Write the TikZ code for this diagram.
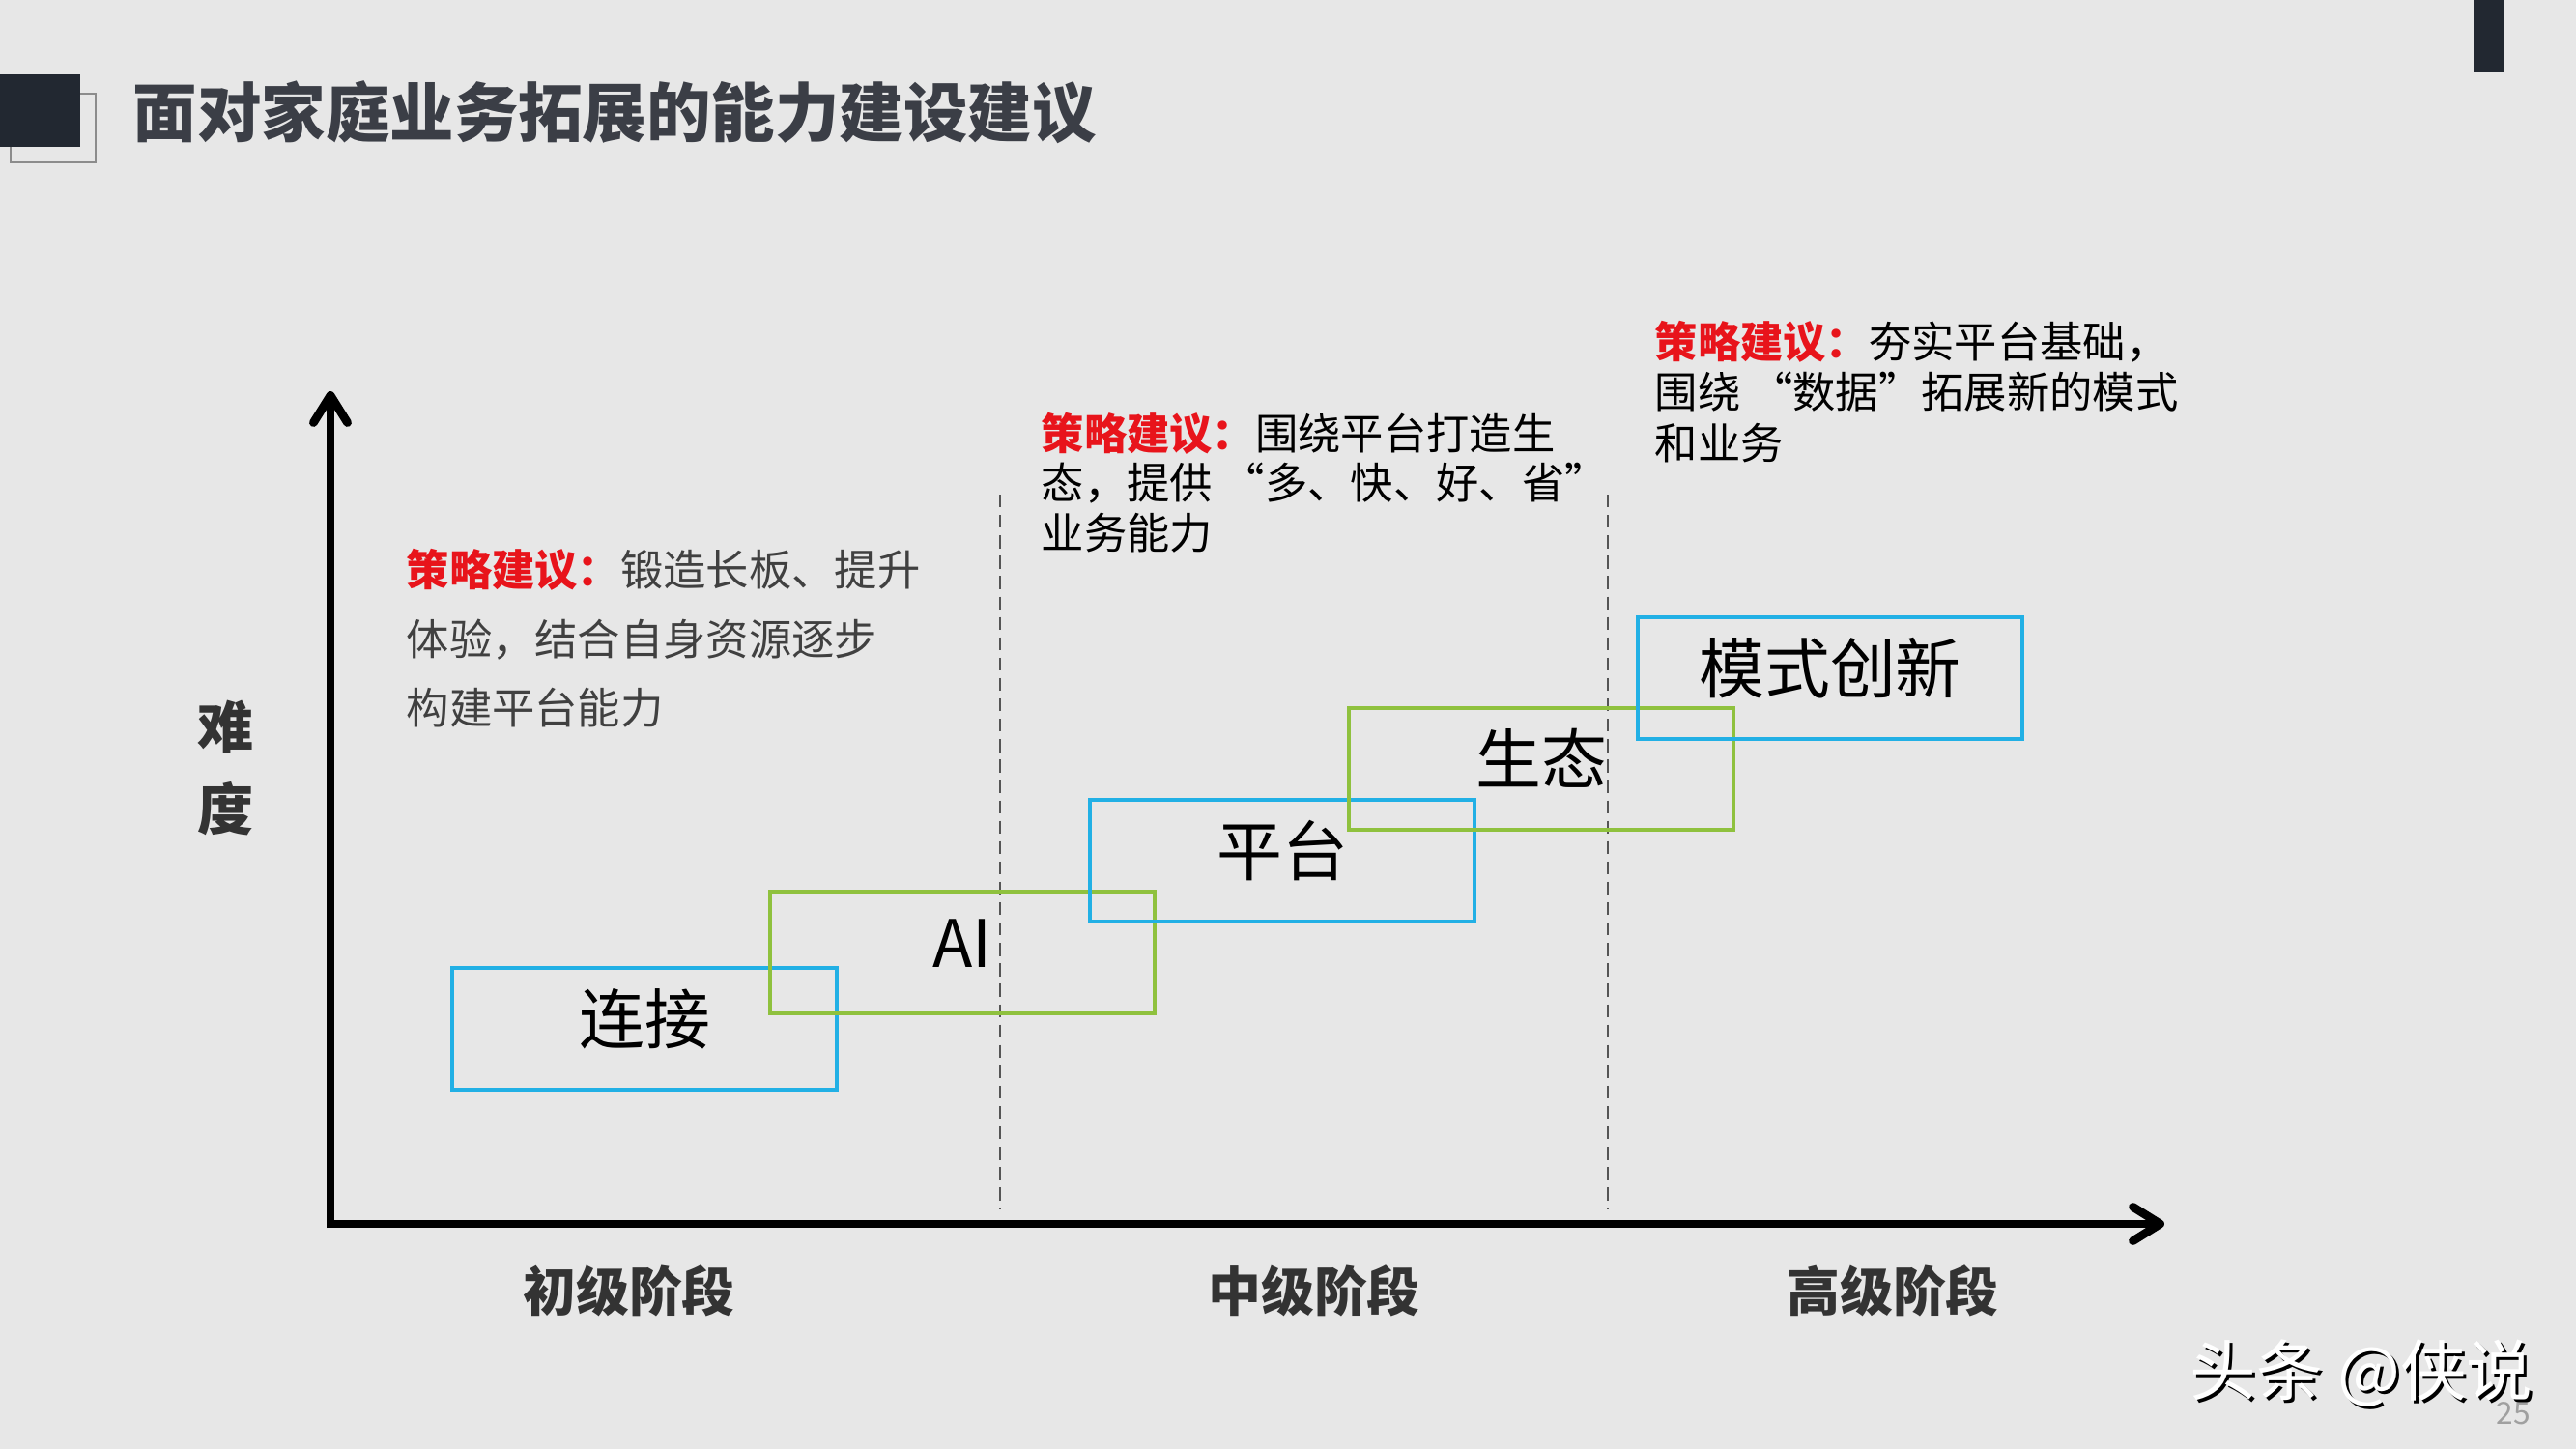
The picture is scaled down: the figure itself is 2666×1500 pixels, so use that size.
\documentclass[tikz,border=0pt]{standalone}
\usepackage{fontspec}
\setmainfont{Noto Sans CJK SC}
\usetikzlibrary{arrows.meta}
\definecolor{bgc}{HTML}{E7E7E7}
\definecolor{darkbar}{HTML}{222831}
\definecolor{frameline}{HTML}{8C8C8C}
\definecolor{titletext}{HTML}{3B3E46}
\definecolor{boxblue}{HTML}{22B0E5}
\definecolor{boxgreen}{HTML}{8FC13E}
\definecolor{redlabel}{HTML}{E8141B}
\definecolor{greytext}{HTML}{404040}
\definecolor{labeltext}{HTML}{333333}
\definecolor{dashgrey}{HTML}{555555}
\definecolor{pagegrey}{HTML}{A0A0A0}
\tikzset{
  fsr/.style={font=\fontsize{#1}{#1}\selectfont, text height={0.88*#1pt}, text depth={0.12*#1pt}},
  fsb/.style={font=\fontsize{#1}{#1}\selectfont\bfseries, text height={0.88*#1pt}, text depth={0.12*#1pt}},
  txt/.style={anchor=west, inner sep=0pt},
  ctxt/.style={anchor=center, inner sep=0pt},
  stagebox/.style={rectangle, draw, line width=1.1pt, minimum width=3.98cm, minimum height=1.26cm,
    inner sep=0pt, font=\fontsize{19.3}{19.3}\selectfont, text height={0.88*19.3pt}, text depth={0.12*19.3pt+5.9pt}, text=black},
  axisline/.style={line width=2.5pt, -{Straight Barb[round, length=8pt, width=10pt]}},
  divline/.style={dashgrey, line width=0.6pt, dash pattern=on 3.8pt off 2.2pt},
  axlabel/.style={ctxt, fsb=16.5, text=labeltext},
  stagelabel/.style={ctxt, fsb=15.6, text=labeltext},
  tipA/.style={txt, fsr=12.6, text=greytext},
  tipB/.style={txt, fsr=12.6, text=black},
}
\newcommand{\tiphead}{{\color{redlabel}\bfseries 策略建议：}}
\begin{document}
\begin{tikzpicture}[x=0.01cm, y=-0.01cm]
\fill[bgc] (0,0) rectangle (2666,1500);
\useasboundingbox (0,0) rectangle (2666,1500);

% title decoration
\draw[frameline, line width=0.8pt] (11,97) rectangle (99,168);
\fill[darkbar] (0,77) rectangle (83,152);
\fill[darkbar] (2560,0) rectangle (2592,75);
\node[txt, fsb=18.9, text=titletext] (title) at (137,116) {面对家庭业务拓展的能力建设建议};

% axes
\coordinate (origin) at (342,1267);
\coordinate (ybot) at (342,1271);
\coordinate (ytop) at (342,405);
\coordinate (xend) at (2240,1267);
\draw[axisline] (ybot) -- (ytop);
\draw[axisline] (origin) -- (xend);

% stage dividers
\coordinate (d1top) at (1035,512);
\coordinate (d1bot) at (1035,1252);
\coordinate (d2top) at (1664,512);
\coordinate (d2bot) at (1664,1252);
\draw[divline] (d1top) -- (d1bot);
\draw[divline] (d2top) -- (d2bot);

% capability boxes
\node[stagebox, draw=boxblue] (lianjie) at (667,1065) {连接};
\node[stagebox, draw=boxgreen] (ai) at (996,986) {AI};
\node[stagebox, draw=boxblue] (pingtai) at (1327,891) {平台};
\node[stagebox, draw=boxgreen] (shengtai) at (1595,796) {生态};
\node[stagebox, draw=boxblue] (moshi) at (1894,702) {模式创新};

% axis labels
\node[axlabel] (nan) at (234,752) {难};
\node[axlabel] (du) at (234,837) {度};
\node[stagelabel] (chuji) at (651,1337) {初级阶段};
\node[stagelabel] (zhongji) at (1360,1337) {中级阶段};
\node[stagelabel] (gaoji) at (1959,1337) {高级阶段};

% strategy texts
\node[tipA] (ta1) at (420,590) {\tiphead 锻造长板、提升};
\node[tipA] (ta2) at (420,662) {体验，结合自身资源逐步};
\node[tipA] (ta3) at (420,733) {构建平台能力};

\node[tipB] (tb1) at (1077,449) {\tiphead 围绕平台打造生};
\node[tipB] (tb2) at (1077,500) {态，提供 “多、快、好、省”};
\node[tipB] (tb3) at (1077,552) {业务能力};

\node[tipB] (tc1) at (1712,354) {\tiphead 夯实平台基础，};
\node[tipB] (tc2) at (1712,406) {围绕 “数据”拓展新的模式};
\node[tipB] (tc3) at (1712,459) {和业务};

% page number and watermark
\node[ctxt, fsr=9, text=pagegrey] (pagenum) at (2601,1462) {25};
\node[txt, fsr=19.5, text=black] (wmshadow) at (2269,1421) {头条 @侠说};
\node[txt, fsr=19.5, text=white] (wm) at (2266,1418) {头条 @侠说};
\end{tikzpicture}
\end{document}
